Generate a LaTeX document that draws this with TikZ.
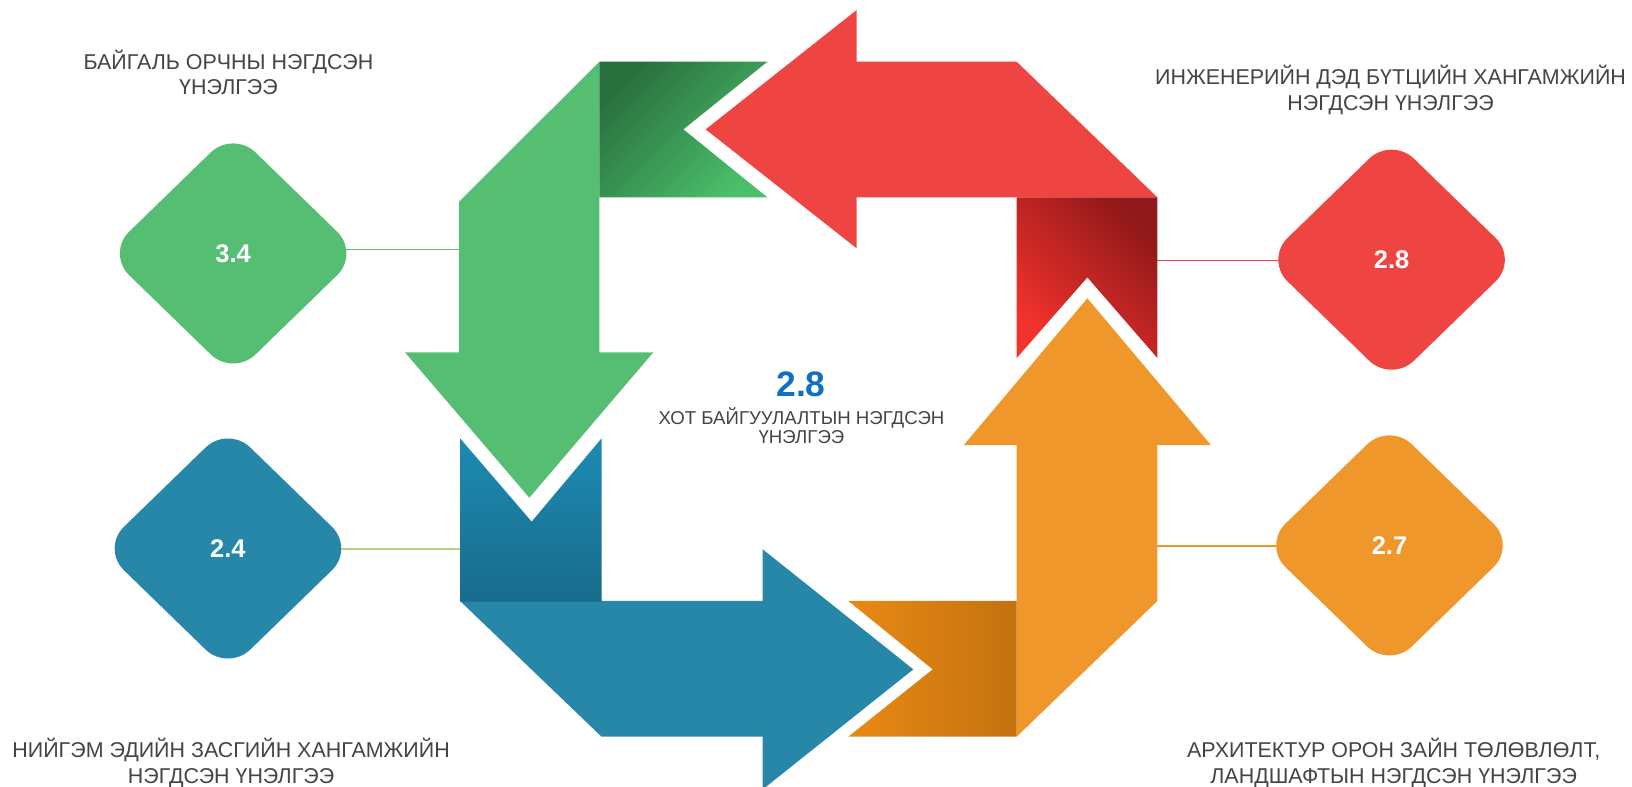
\documentclass[tikz,border=0pt]{standalone}
\usepackage{fontspec}
\setmainfont{Liberation Sans}
\usetikzlibrary{shapes.geometric}
\pgfdeclarelayer{bg}
\pgfsetlayers{bg,main}
\definecolor{cgreen}{HTML}{56BE73}
\definecolor{cgreenD}{HTML}{2A703E}
\definecolor{cgreenL}{HTML}{4ABE6A}
\definecolor{cred}{HTML}{EE4542}
\definecolor{credD}{HTML}{911919}
\definecolor{credL}{HTML}{F2322D}
\definecolor{corange}{HTML}{EF972A}
\definecolor{corangeL}{HTML}{E88916}
\definecolor{corangeD}{HTML}{C4720E}
\definecolor{cblue}{HTML}{2687A8}
\definecolor{cblueT}{HTML}{1E8AB2}
\definecolor{cblueB}{HTML}{176C8C}
\definecolor{cline}{HTML}{B2D47C}
\definecolor{txtgray}{HTML}{444444}
\definecolor{ctitle}{HTML}{1170C4}
\begin{document}
\begin{tikzpicture}[x=1pt,y=-1pt,
  lbl/.style={font=\fontsize{20.6}{24.4}\selectfont, text=txtgray, align=center, anchor=base, inner sep=0pt},
  dia/.style={diamond, rounded corners=30pt, minimum width=243pt, minimum height=236pt, inner sep=0pt, text=white, font=\bfseries\fontsize{24.5}{24.5}\selectfont},
  link/.style={line width=1.2pt}]
\useasboundingbox (0,0) rectangle (1568,756);
\clip (0,0) rectangle (1568,756);

% ---------- green arrow ----------
\fill[cgreen] (441,194) -- (575.8,59.3) -- (575.8,338.5) -- (627.7,338.5) -- (508.6,478.2) -- (389.1,338.5) -- (441,338.5) -- cycle;
\shade[top color=cgreenD, bottom color=cgreenL, shading angle=45] (575.8,59.3) -- (737.3,59.3) -- (656.6,124.3) -- (737.3,189.6) -- (575.8,189.6) -- cycle;

% ---------- red arrow ----------
\fill[cred] (678,124.3) -- (823.1,9.6) -- (823.1,59.3) -- (976.8,59.3) -- (1112,189.6) -- (823.1,189.6) -- (823.1,238.6) -- cycle;
\shade[top color=credD, bottom color=credL, shading angle=-45] (976.8,189.6) -- (1112,189.6) -- (1112,344) -- (1044.7,266.5) -- (976.8,344) -- cycle;

% ---------- orange arrow ----------
\fill[corange] (1044.7,286.6) -- (1163.4,427.6) -- (1112,427.6) -- (1112,577.4) -- (976.8,707.8) -- (976.8,427.6) -- (926,427.6) -- cycle;
\shade[left color=corangeL, right color=corangeD] (815,577.4) -- (976.8,577.4) -- (976.8,707.8) -- (815,707.8) -- (896.1,643.1) -- cycle;

% ---------- blue arrow ----------
\fill[cblue] (442,577.4) -- (732.8,577.4) -- (732.8,527.8) -- (877.5,643.1) -- (732.8,758.4) -- (732.8,707.8) -- (578,707.8) -- cycle;
\shade[top color=cblueT, bottom color=cblueB] (442,421.1) -- (510.8,501.2) -- (578,421.1) -- (578,578) -- (442,578) -- cycle;

% ---------- diamonds ----------
\node[dia, fill=cgreen]  (d34) at (224,243.5) {3.4};
\node[dia, fill=cblue]   (d24) at (219,527) {2.4};
\node[dia, fill=cred]    (d28) at (1337,249.5) {2.8};
\node[dia, fill=corange] (d27) at (1335,524) {2.7};

% ---------- connectors ----------
\coordinate (gs) at (441,239.5);
\coordinate (bs) at (442,527.5);
\coordinate (rs) at (1112,250);
\coordinate (os) at (1112,524.6);
\begin{pgfonlayer}{bg}
\draw[link, cgreen]  (gs) -- (gs -| d34.center);
\draw[link, cline]   (bs) -- (bs -| d24.center);
\draw[link, cred]    (rs) -- (rs -| d28.center);
\draw[link, corange] (os) -- (os -| d27.center);
\end{pgfonlayer}

% ---------- labels (anchor = baseline of the last line) ----------
\node[lbl] (t1) at (219.5,91) {БАЙГАЛЬ ОРЧНЫ НЭГДСЭН\\ҮНЭЛГЭЭ};
\node[lbl] (t2) at (1336,105.7) {ИНЖЕНЕРИЙН ДЭД БҮТЦИЙН ХАНГАМЖИЙН\\НЭГДСЭН ҮНЭЛГЭЭ};
\node[lbl] (t3) at (222,752.6) {НИЙГЭМ ЭДИЙН ЗАСГИЙН ХАНГАМЖИЙН\\НЭГДСЭН ҮНЭЛГЭЭ};
\node[lbl] (t4) at (1339,752.6) {АРХИТЕКТУР ОРОН ЗАЙН ТӨЛӨВЛӨЛТ,\\ЛАНДШАФТЫН НЭГДСЭН ҮНЭЛГЭЭ};

% ---------- centre ----------
\node[font=\bfseries\fontsize{34}{34}\selectfont, text=ctitle, anchor=base, inner sep=0pt] (ctr) at (769.6,380.5) {2.8};
\node[font=\fontsize{17.9}{18.6}\selectfont, text=txtgray, align=center, anchor=base, inner sep=0pt] (csub) at (770,426) {ХОТ БАЙГУУЛАЛТЫН НЭГДСЭН\\ҮНЭЛГЭЭ};
\end{tikzpicture}
\end{document}
